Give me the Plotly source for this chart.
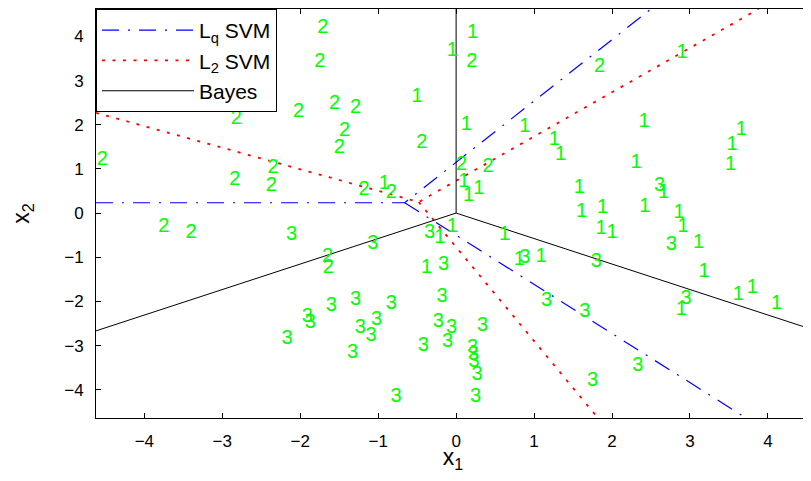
import plotly.graph_objects as go

# ---- data ----
x_ticks = [-4, -3, -2, -1, 0, 1, 2, 3, 4]
y_ticks = [-4, -3, -2, -1, 0, 1, 2, 3, 4]

# decision boundaries (None separates the three rays of each boundary)
bayes_x = [0, 0, None, 0, -4.62, None, 0, 4.54]
bayes_y = [0, 4.62, None, 0, -2.667, None, 0, -2.62]

lq_x = [-4.62, -0.66, 2.50, None, -0.66, 3.72]
lq_y = [0.233, 0.233, 4.62, None, 0.233, -4.64]

l2_x = [-4.62, -0.48, 3.88, None, -0.48, 1.82]
l2_y = [2.27, 0.25, 4.62, None, 0.25, -4.64]

# class "1" labels
c1_x = [-0.05, 0.21, -0.50, 0.13, 0.88, 1.26, 1.34, 2.90, 2.41, 3.66, 3.54, 3.52, 2.31,
        1.58, 2.66, 1.61, 1.88, 2.42, 2.86, 2.91, 1.86, 2.00, 3.11, 3.18, 3.62, 3.80,
        4.11, 2.89, -0.92, 0.10, 0.29, 0.16, -0.05, -0.21, 0.62, -0.38, 0.81, 1.09]
c1_y = [3.66, 4.08, 2.62, 1.99, 1.95, 1.66, 1.32, 3.62, 2.06, 1.88, 1.54, 1.09, 1.14,
        0.57, 0.46, 0.03, 0.12, 0.14, 0.01, -0.31, -0.35, -0.45, -0.67, -1.33, -1.85, -1.69,
        -2.07, -2.19, 0.65, 0.71, 0.55, 0.39, -0.31, -0.56, -0.49, -1.24, -1.06, -0.99]

# class "2" labels
c2_x = [-4.54, -2.82, -2.84, -2.35, -2.37, -3.75, -3.40, -2.02, -1.71, -1.75, -1.56, -1.29,
        -1.43, -1.50, -0.44, 0.20, 0.07, 0.41, -1.18, -0.83, 1.84, -1.65, -1.64]
c2_y = [1.20, 2.14, 0.75, 1.03, 0.62, -0.31, -0.45, 2.28, 4.19, 3.42, 2.47, 2.38,
        1.86, 1.47, 1.59, 3.42, 1.09, 1.05, 0.53, 0.46, 3.31, -0.99, -1.24]

# class "3" labels
c3_x = [-2.11, -0.34, -1.07, -0.16, 0.88, 1.80, 1.16, 1.65, 2.95, 2.76, 2.61, -0.18,
        -1.60, -1.29, -0.83, -1.91, -1.87, -2.17, -1.02, -1.23, -1.09, -1.33, -0.23, -0.06,
        -0.11, -0.42, 0.34, 0.21, 0.22, 0.23, 0.27, -0.77, 0.25, 0.65, 2.33, 1.75]
c3_y = [-0.49, -0.45, -0.69, -1.17, -1.01, -1.10, -2.00, -2.23, -1.94, -0.72, 0.62, -1.89,
        -2.10, -1.96, -2.07, -2.35, -2.48, -2.84, -2.42, -2.60, -2.78, -3.16, -2.46, -2.60,
        -2.91, -3.00, -2.55, -3.05, -3.21, -3.37, -3.66, -4.16, -4.16, -4.66, -3.47, -3.81]

FONT = "Liberation Sans, Arial, Helvetica, sans-serif"
GREEN = "#00ff00"

fig = go.Figure()

fig.add_trace(go.Scatter(x=lq_x, y=lq_y, mode="lines", name="L<sub>q</sub> SVM", legendgroup="a",
                         line=dict(color="#0000ff", width=1.2, dash="17px,9px,2px,9px")))
fig.add_trace(go.Scatter(x=l2_x, y=l2_y, mode="lines", name="L<sub>2</sub> SVM", legendgroup="b",
                         line=dict(color="#ff0000", width=1.8, dash="3px,7.5px")))
fig.add_trace(go.Scatter(x=bayes_x, y=bayes_y, mode="lines", name="Bayes", legendgroup="c",
                         line=dict(color="black", width=1)))

for xs, ys, lab in [(c1_x, c1_y, "1"), (c2_x, c2_y, "2"), (c3_x, c3_y, "3")]:
    fig.add_trace(go.Scatter(x=xs, y=ys, mode="text", text=[lab] * len(xs),
                             textposition="middle center", showlegend=False,
                             cliponaxis=False, hoverinfo="skip",
                             textfont=dict(color=GREEN, size=20, family=FONT)))

axis_common = dict(showline=True, linecolor="black", linewidth=1, mirror="ticks",
                   ticks="inside", ticklen=5, tickcolor="black", showgrid=False,
                   zeroline=False, automargin=False,
                   tickfont=dict(size=17, color="black", family=FONT))

fig.update_xaxes(range=[-4.62, 4.54], tickvals=x_ticks, ticklabelstandoff=8,
                 title=dict(text="x<sub>1</sub>", font=dict(size=23, color="black", family=FONT),
                            standoff=2),
                 **axis_common)
fig.update_yaxes(range=[-4.64, 4.62], tickvals=y_ticks, ticklabelstandoff=8,
                 title=dict(text="x<sub>2</sub>", font=dict(size=23, color="black", family=FONT),
                            standoff=32),
                 **axis_common)

# the page body adds an 8px offset, so the figure is sized to fit the window after it
fig.update_layout(
    width=803, height=465,
    margin=dict(l=88, r=1, t=1, b=55),
    plot_bgcolor="white", paper_bgcolor="white",
    legend=dict(x=0, y=1, xanchor="left", yanchor="top", bgcolor="white",
                bordercolor="black", borderwidth=1, itemwidth=92, tracegroupgap=0,
                font=dict(size=21, color="black", family=FONT)),
)

fig.write_html("out.html")
